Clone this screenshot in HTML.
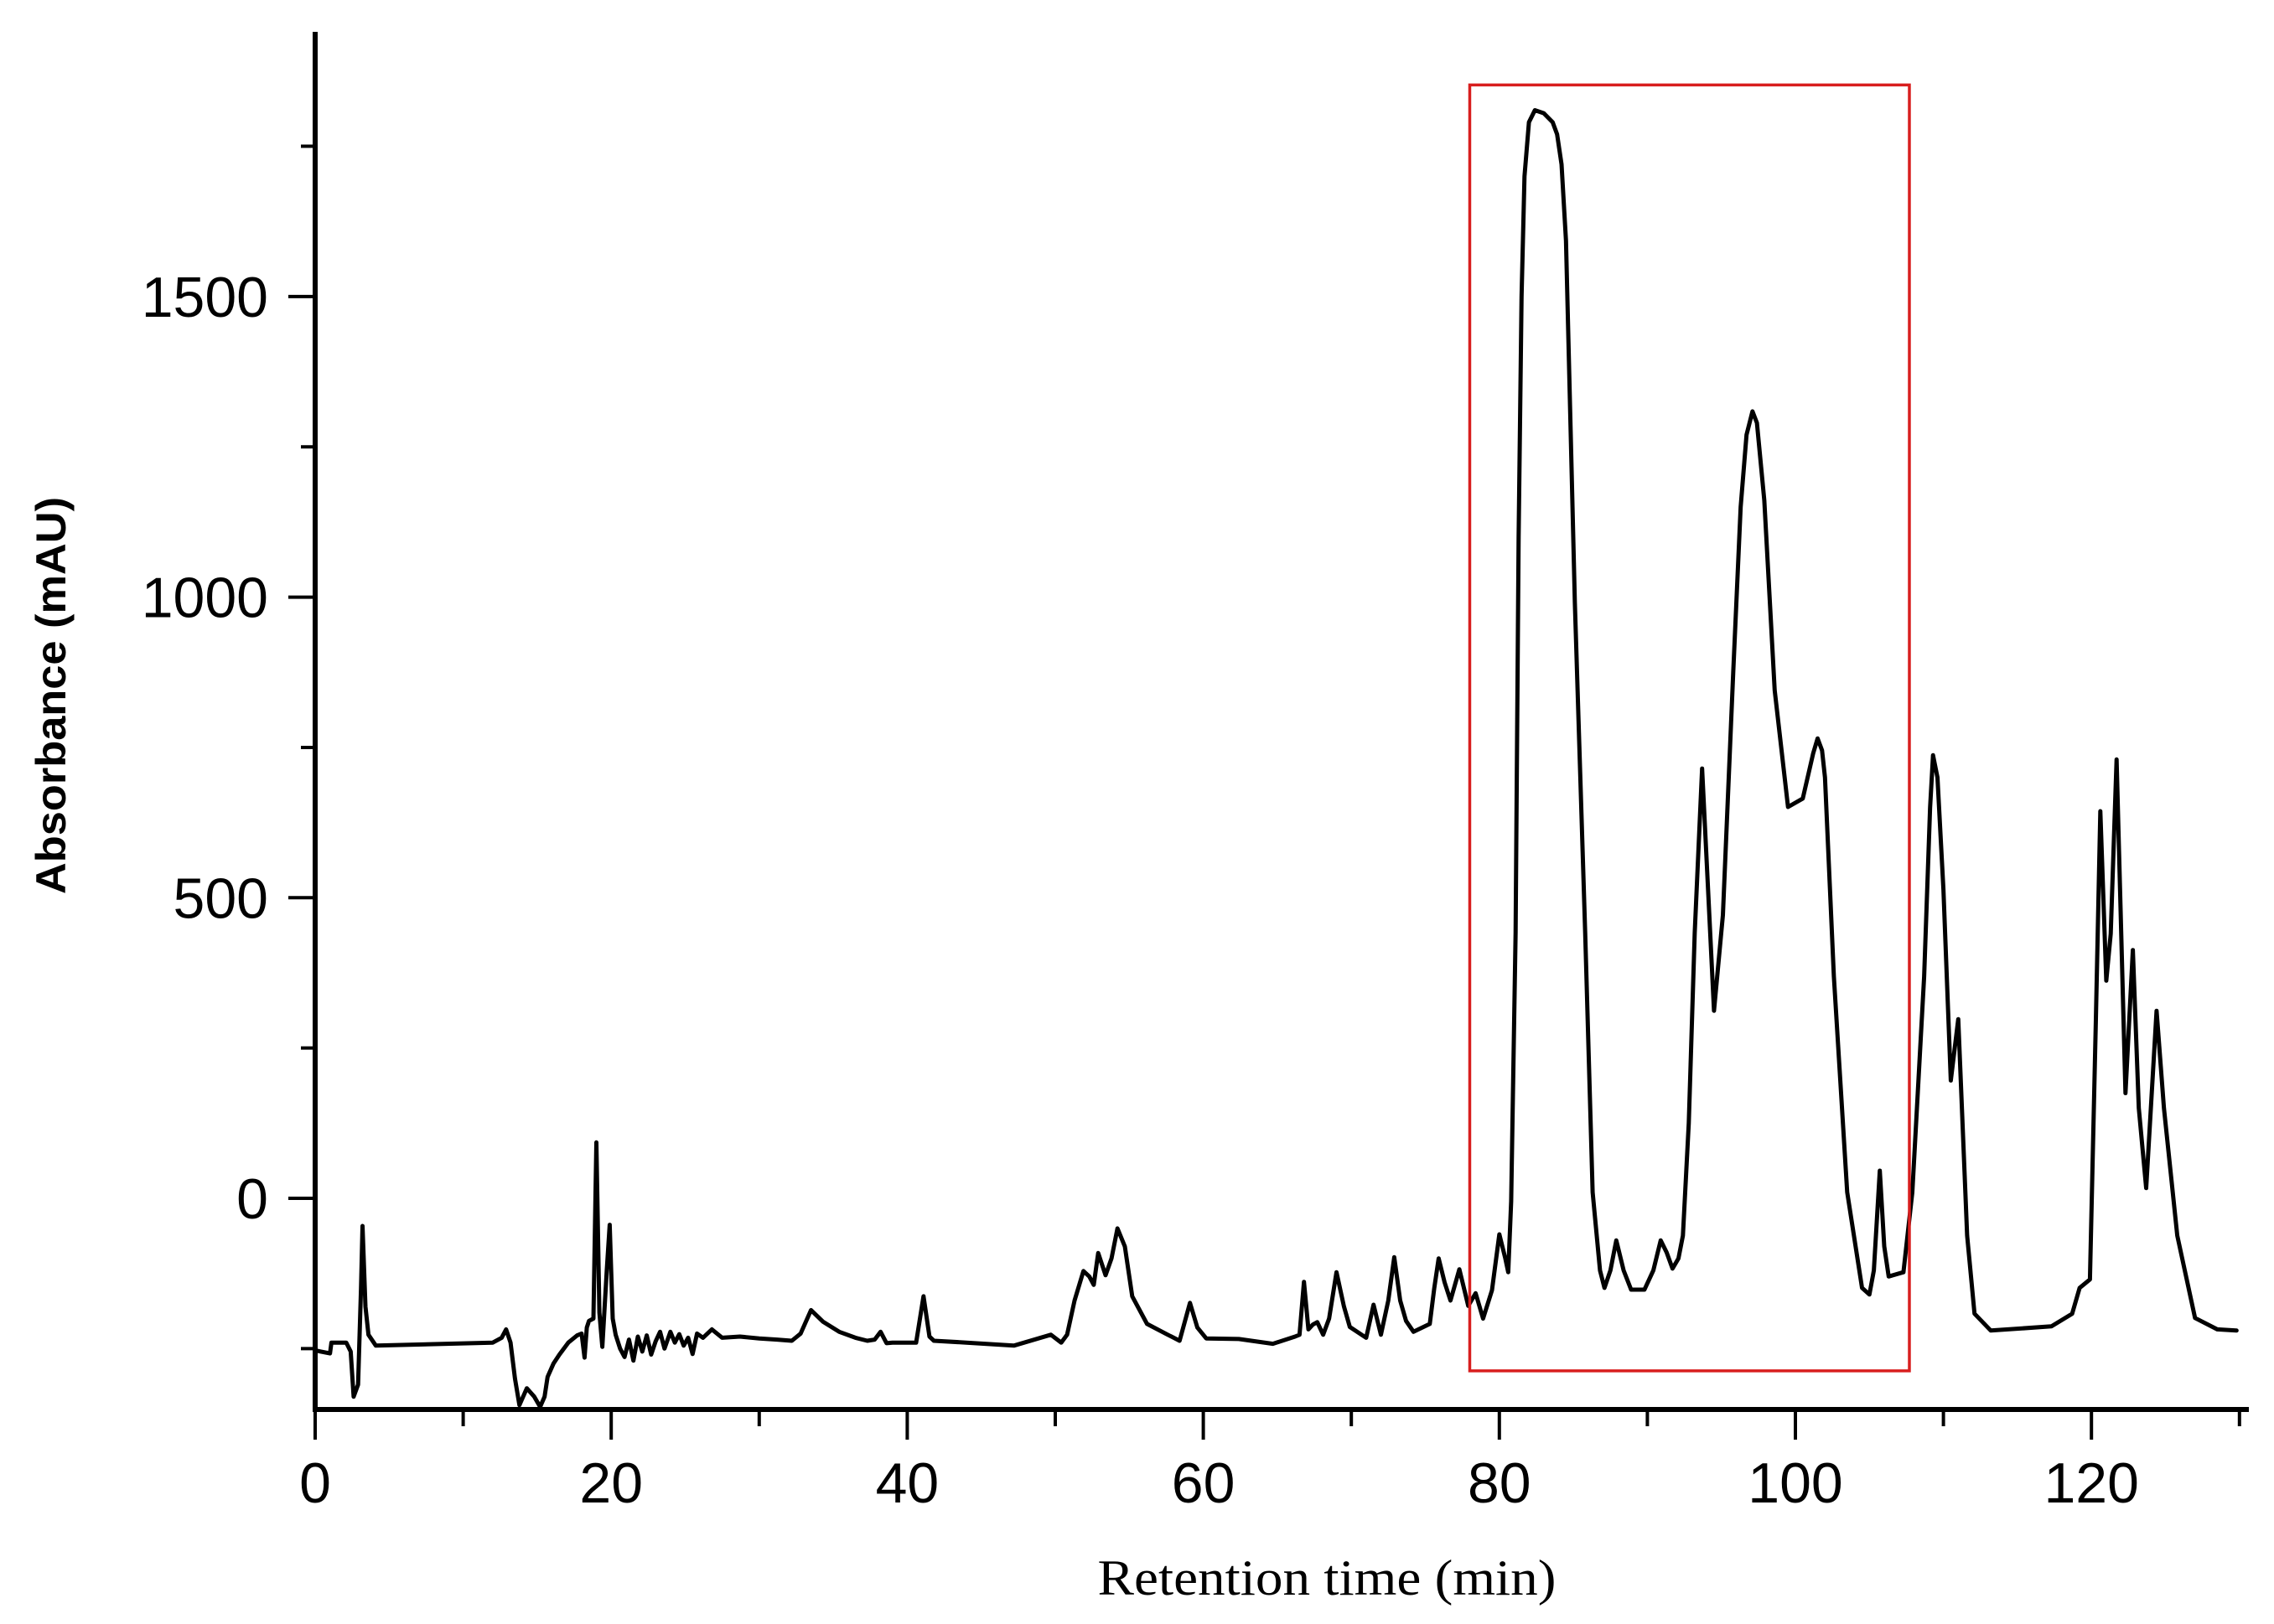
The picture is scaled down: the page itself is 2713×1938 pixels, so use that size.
<!DOCTYPE html>
<html>
<head>
<meta charset="utf-8">
<style>
  html,body{margin:0;padding:0;background:#fff;}
  svg{display:block;}
</style>
</head>
<body>
<svg id="chart" width="2713" height="1938" viewBox="0 0 2713 1938" xmlns="http://www.w3.org/2000/svg">
  <rect x="0" y="0" width="2713" height="1938" fill="#fff"/>
  <g id="axes"></g>
  <g id="series"></g>
  <text x="1583" y="1903" text-anchor="middle" font-family="'Liberation Serif', serif" font-size="60" textLength="547" lengthAdjust="spacingAndGlyphs" fill="#000">Retention time (min)</text>
  <text transform="translate(78,830) rotate(-90)" text-anchor="middle" font-family="'Liberation Sans', sans-serif" font-weight="bold" font-size="50" textLength="474" lengthAdjust="spacingAndGlyphs" fill="#000">Absorbance (mAU)</text>
</svg>
<script>
// ---- data ----
const times = [0,1.0,1.1,2.1,2.4,2.6,2.9,3.1,3.2,3.4,3.6,4.1,12.0,12.6,12.9,13.2,13.5,13.8,14.3,14.8,15.2,15.5,15.7,16.1,16.5,17.1,17.7,18.0,18.2,18.35,18.5,18.8,19.0,19.2,19.4,19.7,19.9,20.1,20.3,20.6,20.9,21.2,21.5,21.8,22.1,22.4,22.7,23.0,23.3,23.6,24.0,24.3,24.6,24.9,25.2,25.5,25.8,26.2,26.8,27.5,28.7,30.0,31.2,32.2,32.8,33.5,34.3,35.4,36.5,37.3,37.8,38.2,38.6,39.0,40.6,41.1,41.5,41.8,44.0,47.2,49.7,50.4,50.8,51.3,51.9,52.3,52.6,52.9,53.4,53.8,54.2,54.7,55.2,56.2,57.6,58.4,59.1,59.6,60.2,62.4,64.7,66.2,66.5,66.8,67.1,67.4,67.7,68.1,68.5,69.0,69.5,69.9,71.0,71.5,72.0,72.5,72.9,73.3,73.7,74.2,75.3,75.6,75.9,76.3,76.7,77.3,77.9,78.4,78.9,79.5,80.0,80.4,80.6,80.8,81.1,81.3,81.5,81.7,82.0,82.4,83.0,83.6,83.9,84.2,84.5,85.1,85.8,86.3,86.8,87.1,87.5,87.9,88.4,88.9,89.8,90.4,90.9,91.3,91.7,92.1,92.4,92.8,93.2,93.7,94.1,94.5,95.1,95.8,96.3,96.7,97.1,97.4,97.9,98.6,99.5,100.5,101.2,101.5,101.8,102.0,102.6,103.5,104.5,105.0,105.3,105.7,106.0,106.3,107.3,107.9,108.7,109.1,109.3,109.6,110.0,110.5,111.0,111.6,112.1,113.2,117.3,118.7,119.2,119.9,120.3,120.6,121.0,121.3,121.7,122.3,122.8,123.2,123.7,124.4,124.9,125.8,127.0,128.5,129.8];
const absorb = [-253,-258,-240,-240,-255,-330,-310,-150,-46,-180,-227,-245,-240,-232,-218,-240,-300,-344,-316,-330,-347,-330,-297,-275,-260,-240,-228,-225,-265,-215,-204,-200,93,-190,-247,-120,-44,-200,-227,-250,-264,-235,-270,-230,-255,-228,-260,-238,-222,-250,-222,-240,-226,-245,-232,-259,-225,-232,-218,-232,-230,-233,-235,-237,-225,-186,-205,-222,-232,-237,-235,-222,-241,-240,-240,-163,-230,-237,-240,-245,-227,-240,-227,-170,-121,-130,-144,-91,-128,-100,-50,-80,-163,-209,-227,-237,-174,-215,-233,-234,-242,-230,-227,-139,-218,-210,-206,-227,-200,-123,-180,-214,-232,-177,-227,-170,-98,-170,-204,-222,-209,-150,-100,-140,-170,-118,-179,-158,-200,-153,-60,-100,-123,-5,442,1100,1500,1700,1790,1810,1805,1790,1770,1720,1593,990,442,10,-120,-149,-120,-70,-120,-152,-152,-120,-70,-90,-117,-100,-62,125,442,715,514,312,471,874,1150,1270,1309,1290,1161,845,651,665,740,765,745,700,369,10,-149,-160,-120,46,-80,-130,-123,10,369,650,737,700,514,196,298,-62,-192,-220,-213,-192,-149,-135,298,644,362,440,730,175,413,150,17,312,150,-62,-199,-218,-220];
const xTickValues = [0,20,40,60,80,100,120];
const xTickLabels = ["0","20","40","60","80","100","120"];
const xMinorTicks = [10,30,50,70,90,110,130];
const yTickValues = [0,500,1000,1500];
const yTickLabels = ["0","500","1000","1500"];
const yMinorTicks = [-250,250,750,1250,1750];
const boxRange = [78.0, 107.7, 1852, -287]; // highlighted region: tStart, tEnd, vTop, vBottom

// ---- scales ----
const X0 = 376, KX = 17.66;
const Y0 = 1430, KY = 0.7174;
const AXIS_Y = 1682, AXIS_TOP = 38, AXIS_RIGHT = 2683;
function xs(t){ return X0 + t*KX; }
function ys(v){ return Y0 - v*KY; }

const NS = "http://www.w3.org/2000/svg";
const axes = document.getElementById('axes');
const series = document.getElementById('series');
function mk(tag, attrs, parent){
  const e = document.createElementNS(NS, tag);
  for (const k in attrs) e.setAttribute(k, attrs[k]);
  parent.appendChild(e);
  return e;
}

// trace
let d = "";
for (let i=0;i<times.length;i++){
  d += (i? "L":"M") + xs(times[i]).toFixed(1) + "," + ys(absorb[i]).toFixed(1);
}
const path = mk('path', {d:d, fill:'none', stroke:'#000', 'stroke-width':5, 'stroke-linejoin':'round', 'stroke-linecap':'round'}, series);



// highlight box
const box = mk('rect', {x:xs(boxRange[0]), y:ys(boxRange[2]), width:xs(boxRange[1])-xs(boxRange[0]), height:ys(boxRange[3])-ys(boxRange[2]), fill:'none', stroke:'#d81e1e', 'stroke-width':3.5}, series);



// axis lines
const yAxis = mk('line', {x1:X0, y1:AXIS_TOP, x2:X0, y2:AXIS_Y+3, stroke:'#000', 'stroke-width':6}, axes);


const xAxis = mk('line', {x1:X0-3, y1:AXIS_Y, x2:AXIS_RIGHT, y2:AXIS_Y, stroke:'#000', 'stroke-width':6}, axes);



// x ticks
xTickValues.forEach((v,i)=>{
  const tk = mk('line', {x1:xs(v), y1:AXIS_Y, x2:xs(v), y2:AXIS_Y+36, stroke:'#000', 'stroke-width':4}, axes);
  
  
  const lb = mk('text', {x:xs(v), y:1793, 'text-anchor':'middle', 'font-family':"'Liberation Sans', sans-serif", 'font-size':68, fill:'#000'}, axes);
  lb.textContent = xTickLabels[i];
  
  
});
xMinorTicks.forEach(v=>{
  const tk = mk('line', {x1:xs(v), y1:AXIS_Y, x2:xs(v), y2:AXIS_Y+20, stroke:'#000', 'stroke-width':4}, axes);
  
  
});
// y ticks
yTickValues.forEach((v,i)=>{
  const tk = mk('line', {x1:X0-32, y1:ys(v), x2:X0, y2:ys(v), stroke:'#000', 'stroke-width':4}, axes);
  
  
  const lb = mk('text', {x:320, y:ys(v)+24, 'text-anchor':'end', 'font-family':"'Liberation Sans', sans-serif", 'font-size':68, fill:'#000'}, axes);
  lb.textContent = yTickLabels[i];
  
  
});
yMinorTicks.forEach(v=>{
  const tk = mk('line', {x1:X0-17, y1:ys(v), x2:X0, y2:ys(v), stroke:'#000', 'stroke-width':4}, axes);
  
  
});
</script>
</body>
</html>
